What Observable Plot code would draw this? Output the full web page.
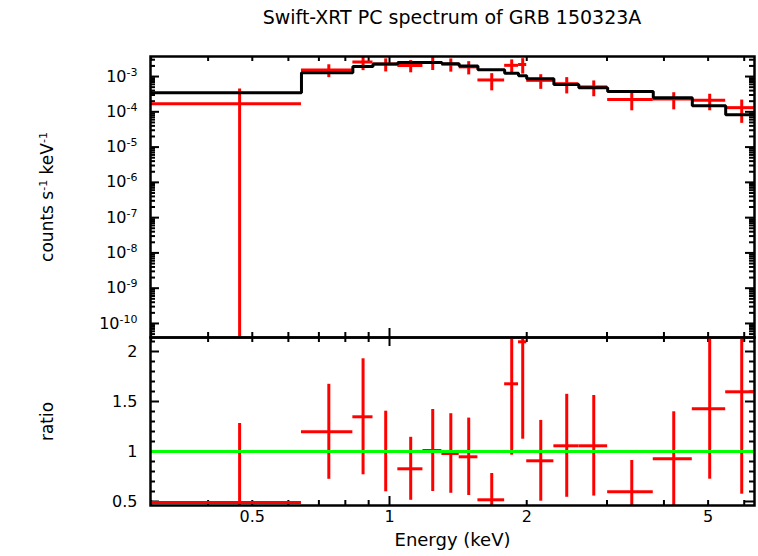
<!DOCTYPE html>
<html><head><meta charset="utf-8">
<script src="https://cdn.jsdelivr.net/npm/d3@7"></script>
<script src="https://cdn.jsdelivr.net/npm/@observablehq/plot@0.6"></script>
<style>
html,body{margin:0;padding:0;background:#fff;}
#wrap{position:relative;width:758px;height:556px;font-family:"DejaVu Sans",sans-serif;overflow:hidden;}
#title{position:absolute;left:150px;width:604px;top:5px;text-align:center;font-size:19px;line-height:24px;color:#000;}
#top{position:absolute;left:0;top:0;width:758px;}
#bot{position:absolute;left:0;top:334px;width:758px;}
</style></head><body>
<div id="wrap"><div id="title">Swift-XRT PC spectrum of GRB 150323A</div><div id="top"></div><div id="bot"></div></div>
<script>
// ---- data ----
const eLo = [0.294, 0.641, 0.831, 0.920, 1.043, 1.184, 1.303, 1.422, 1.563, 1.789, 1.919, 2.000, 2.294, 2.602, 3.010, 3.790, 4.616, 5.464];
const eHi = [0.641, 0.831, 0.920, 1.043, 1.184, 1.303, 1.422, 1.563, 1.789, 1.919, 2.000, 2.294, 2.602, 3.010, 3.790, 4.616, 5.464, 6.386];
const eMid = [0.469, 0.736, 0.875, 0.981, 1.113, 1.244, 1.363, 1.492, 1.676, 1.854, 1.960, 2.147, 2.448, 2.806, 3.400, 4.203, 5.040, 5.925];
const rate = [1.69e-4, 1.544e-3, 2.586e-3, 2.26e-3, 2.059e-3, 2.502e-3, 2.244e-3, 1.879e-3, 8.00e-4, 2.079e-3, 2.196e-3, 7.80e-4, 6.27e-4, 5.09e-4, 2.245e-4, 2.308e-4, 2.111e-4, 1.313e-4];
const rateErr = [2.73e-4, 6.13e-4, 1.114e-3, 9.1e-4, 7.84e-4, 1.021e-3, 9.11e-4, 7.68e-4, 4.07e-4, 8.85e-4, 1.020e-3, 3.47e-4, 3.05e-4, 2.42e-4, 1.177e-4, 1.170e-4, 1.041e-4, 8.42e-5];
const model = [3.45e-4, 1.29e-3, 1.92e-3, 2.26e-3, 2.49e-3, 2.49e-3, 2.29e-3, 1.98e-3, 1.55e-3, 1.24e-3, 1.05e-3, 8.6e-4, 5.93e-4, 4.82e-4, 3.76e-4, 2.49e-4, 1.48e-4, 8.2e-5];
const ratio = [0.49, 1.197, 1.347, 1.0, 0.827, 1.01, 0.98, 0.947, 0.517, 1.677, 2.097, 0.907, 1.057, 1.057, 0.597, 0.927, 1.427, 1.597];
const ratioErr = [0.79, 0.475, 0.58, 0.403, 0.315, 0.41, 0.398, 0.387, 0.263, 0.714, 0.974, 0.404, 0.515, 0.503, 0.313, 0.47, 0.704, 1.024];

const xTickLabels = [0.5, 1, 2, 5];
const topDecades = [-10, -9, -8, -7, -6, -5, -4, -3];
const ratioTickLabels = [0.5, 1, 1.5, 2];
const titleText = "Swift-XRT PC spectrum of GRB 150323A";
const yLabelTop = "counts s^-1 keV^-1";
const yLabelBot = "ratio";
const xLabel = "Energy (keV)";

const xDomain = [0.299, 6.32];
const topDomain = [4.0e-11, 3.7e-3];
const ratioDomain = [0.46, 2.14];

// ---- layout ----
const W = 758, ML = 150, MR = 4;
const FW = W - ML - MR;
const RED = "#ff0000", GREEN = "#00ff00";
const MINOR = 5, MAJOR = 9, TW = 2;
const svgStyle = "background: transparent; overflow: visible; font-family: 'DejaVu Sans', sans-serif;";

const bins = eLo.map((lo, i) => ({lo, hi: eHi[i], mid: eMid[i], rate: rate[i], err: rateErr[i], m: model[i], r: ratio[i], rerr: ratioErr[i]}));
const step = bins.map(d => ({e: d.lo, m: d.m})).concat([{e: eHi[eHi.length - 1], m: model[model.length - 1]}]);

const inX = v => v > xDomain[0] * 1.001 && v < xDomain[1] * 0.999;
const xMinor = [0.3, 0.4, 0.5, 0.6, 0.7, 0.8, 0.9, 2, 3, 4, 5, 6, 7, 8, 9].filter(inX);
const xMajor = [1, 10].filter(inX);

function xTicks(H) {
  return [
    Plot.tickX(xMinor, {x: d => d, insetBottom: H - MINOR, strokeWidth: TW}),
    Plot.tickX(xMinor, {x: d => d, insetTop: H - MINOR, strokeWidth: TW}),
    Plot.tickX(xMajor, {x: d => d, insetBottom: H - MAJOR, strokeWidth: TW}),
    Plot.tickX(xMajor, {x: d => d, insetTop: H - MAJOR, strokeWidth: TW})
  ];
}
function yTicks(minor, major) {
  return [
    Plot.tickY(minor, {y: d => d, insetRight: FW - MINOR, strokeWidth: TW}),
    Plot.tickY(minor, {y: d => d, insetLeft: FW - MINOR, strokeWidth: TW}),
    Plot.tickY(major, {y: d => d, insetRight: FW - MAJOR, strokeWidth: TW}),
    Plot.tickY(major, {y: d => d, insetLeft: FW - MAJOR, strokeWidth: TW})
  ];
}

// top y ticks
const inTop = v => v > topDomain[0] * 1.001 && v < topDomain[1] * 0.999;
const topMajor = d3.range(-11, -1).map(k => Math.pow(10, k)).filter(inTop);
const topMinor = [];
for (let k = -11; k <= -3; k++) for (let m = 2; m <= 9; m++) topMinor.push(m * Math.pow(10, k));
const topMinorF = topMinor.filter(inTop);

// ratio y ticks
const ratioMajor = ratioTickLabels;
const ratioMinor = d3.range(5, 22).filter(i => i % 5 !== 0).map(i => i / 10).filter(v => v > ratioDomain[0] && v < ratioDomain[1]);

const floorTop = topDomain[0] / 10;

// ---- top panel ----
const H1 = 337 - 56;
const topPlot = Plot.plot({
  width: W, height: 340, marginLeft: ML, marginRight: MR, marginTop: 56, marginBottom: 3,
  style: svgStyle,
  x: {type: "log", domain: xDomain, axis: null},
  y: {type: "log", domain: topDomain, axis: null},
  marks: [
    ...xTicks(H1),
    ...yTicks(topMinorF, topMajor),
    Plot.ruleY(bins, {y: "rate", x1: "lo", x2: "hi", stroke: RED, strokeWidth: 3, clip: true}),
    Plot.ruleX(bins, {x: "mid", y1: d => Math.max(d.rate - d.err, floorTop), y2: d => d.rate + d.err, stroke: RED, strokeWidth: 3, clip: true}),
    Plot.line(step, {x: "e", y: "m", curve: "step-after", stroke: "black", strokeWidth: 3, strokeLinejoin: "miter", strokeLinecap: "butt", clip: true}),
    Plot.frame({strokeWidth: 2.5}),
    Plot.text(topDecades, {y: d => Math.pow(10, d), text: d => `10^${d}`, frameAnchor: "left", textAnchor: "end", dx: -13, fontSize: 16, fill: "black"}),
    Plot.text([yLabelTop], {text: d => d, frameAnchor: "left", textAnchor: "middle", dx: -103, rotate: -90, fontSize: 17, fill: "black"})
  ]
});

// ---- ratio panel ----
const H2 = 505 - 337;
const botPlot = Plot.plot({
  width: W, height: 222, marginLeft: ML, marginRight: MR, marginTop: 3, marginBottom: 51,
  style: svgStyle,
  x: {type: "log", domain: xDomain, axis: null},
  y: {type: "linear", domain: ratioDomain, axis: null},
  marks: [
    ...xTicks(H2),
    ...yTicks(ratioMinor, ratioMajor),
    Plot.ruleY(bins, {y: "r", x1: "lo", x2: "hi", stroke: RED, strokeWidth: 3, clip: true}),
    Plot.ruleX(bins, {x: "mid", y1: d => d.r - d.rerr, y2: d => d.r + d.rerr, stroke: RED, strokeWidth: 3, clip: true}),
    Plot.ruleY([1], {stroke: GREEN, strokeWidth: 3, clip: true}),
    Plot.frame({strokeWidth: 2.5}),
    Plot.text(ratioTickLabels, {y: d => d, text: d => String(d), frameAnchor: "left", textAnchor: "end", dx: -13, fontSize: 16, fill: "black"}),
    Plot.text(xTickLabels, {x: d => d, text: d => String(d), frameAnchor: "bottom", dy: 16, fontSize: 16, fill: "black"}),
    Plot.text([xLabel], {text: d => d, frameAnchor: "bottom", dy: 40, fontSize: 18, fill: "black"}),
    Plot.text([yLabelBot], {text: d => d, frameAnchor: "left", textAnchor: "middle", dx: -103, rotate: -90, fontSize: 17, fill: "black"})
  ]
});

// superscripts: "a^-3b" -> a<sup>-3</sup>b
function supify(svg, supSize, raise) {
  d3.select(svg).selectAll("text").each(function () {
    const t = this.textContent;
    if (!t.includes("^")) return;
    const parts = t.split(/\^(-?\d+)/);
    const sel = d3.select(this);
    sel.text(null);
    let raised = false;
    parts.forEach((p, i) => {
      if (i % 2 === 0) {
        if (!p) return;
        const ts = sel.append("tspan").text(p);
        if (raised) { ts.attr("dy", raise); raised = false; }
      } else {
        sel.append("tspan").attr("dy", -raise).attr("font-size", supSize).text(p);
        raised = true;
      }
    });
  });
}
supify(topPlot, 11, 6);

document.getElementById("title").textContent = titleText;
document.getElementById("top").appendChild(topPlot);
document.getElementById("bot").appendChild(botPlot);
</script>
</body></html>
